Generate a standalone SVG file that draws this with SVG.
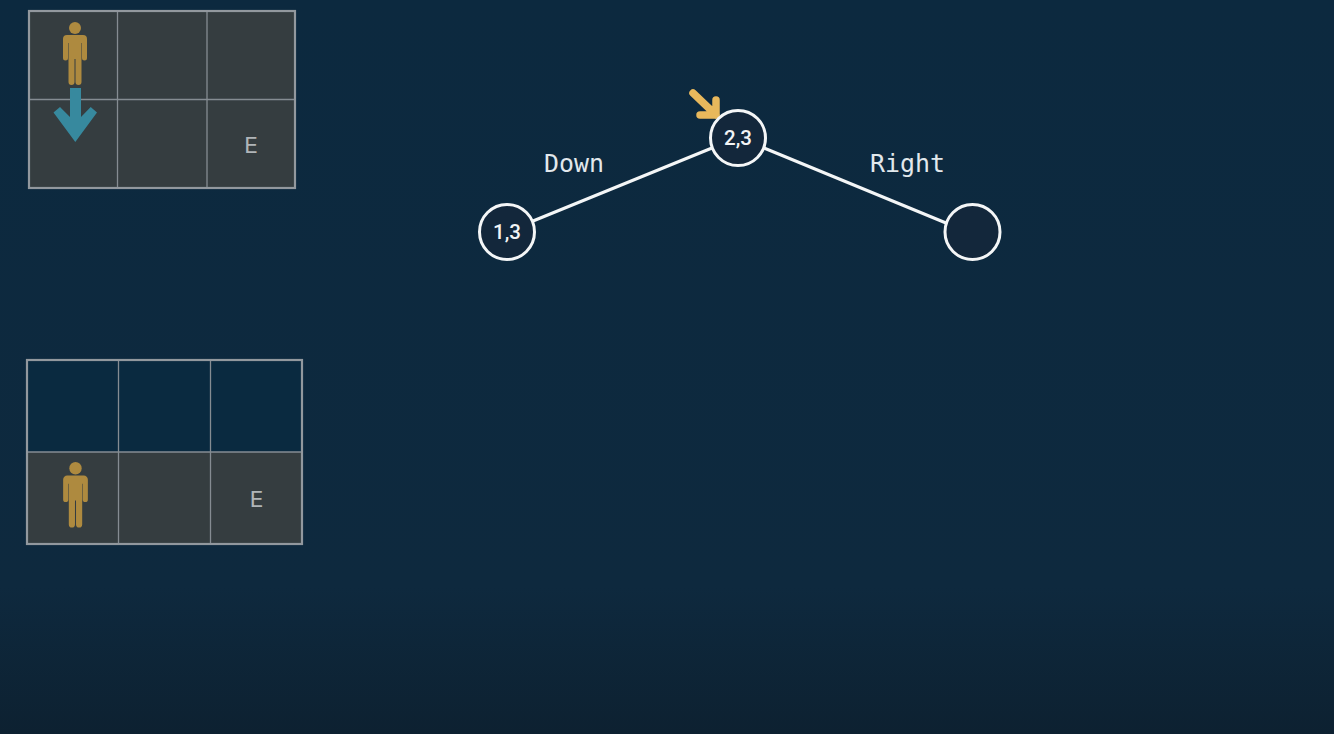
<svg xmlns="http://www.w3.org/2000/svg" width="1334" height="734" viewBox="0 0 1334 734">
<defs>
<linearGradient id="bg" x1="0" y1="0" x2="0" y2="1">
<stop offset="0" stop-color="#0c293f"/><stop offset="0.8" stop-color="#0e293e"/><stop offset="1" stop-color="#0d2131"/>
</linearGradient>
<g id="person" fill="#ae8a3f">
<circle cx="0" cy="6" r="6"/>
<path d="M-8 13H8a4 4 0 0 1 4 4V36a2.500 2.500 0 0 1-5 0V21H6.500V60a3 3 0 0 1-6 0V37H-0.500V60a3 3 0 0 1-6 0V21H-7V36a2.500 2.500 0 0 1-5 0V17a4 4 0 0 1 4-4Z"/>
</g>
</defs>
<style>
.cell{fill:#353d40}
.grid{fill:none;stroke:#858c92;stroke-width:1.300}
.frame{fill:none;stroke:#92989e;stroke-width:2.200}
.e{font:22px "DejaVu Sans",sans-serif;fill:#b0b5b8;text-anchor:middle}
.lab{font:24.900px "DejaVu Sans Mono",monospace;fill:#e2e8ec;text-anchor:middle}
.num{font:500 20.500px "Roboto",sans-serif;fill:#f2f4f5;text-anchor:middle}
.node{fill:#13273b;stroke:#f4f6f7;stroke-width:3}
.edge{fill:none;stroke:#f4f6f7;stroke-width:3}
</style>
<rect width="1334" height="734" fill="url(#bg)"/>
<g id="grid-top">
<rect class="cell" x="29" y="11" width="266" height="177"/>
<path class="grid" d="M117.500 11V188M207 11V188M29 99.500H295"/>
<rect class="frame" x="29" y="11" width="266" height="177"/>
<text class="e" x="251" y="153">E</text>
<use href="#person" x="75" y="22"/>
<path d="M70 88H81V117L90.700 107L97 112.500L75.300 142L53.500 112.500L60 107L70 117Z" fill="#37899e"/>
</g>
<g id="grid-bottom">
<rect x="27" y="360" width="275" height="92" fill="#0a2a40"/>
<rect class="cell" x="27" y="452" width="275" height="92"/>
<path class="grid" d="M118.500 360V544M210.500 360V544M27 452H302"/>
<rect class="frame" x="27" y="360" width="275" height="184"/>
<text class="e" x="256.500" y="507">E</text>
<use href="#person" transform="translate(75.500 462) scale(1.030 1.040)"/>
</g>
<g id="connectors">
<path class="edge" d="M533 221L712 148M764 148L946 223"/>
</g>
<g id="pointer" fill="none" stroke="#e8b85c" stroke-width="7.500" stroke-linecap="round" stroke-linejoin="round">
<path d="M693 93L716 115M716 100V115H700"/>
</g>
<g id="node-1-3"><circle class="node" cx="507" cy="232" r="27.500"/><text class="num" x="507" y="239">1,3</text></g>
<g id="node-2-3"><circle class="node" cx="738" cy="138" r="27.500"/><text class="num" x="738" y="145">2,3</text></g>
<g id="node-empty"><circle class="node" cx="972.500" cy="232" r="27.500"/></g>
<g id="labels">
<text class="lab" x="574" y="172">Down</text>
<text class="lab" x="907.500" y="172">Right</text>
</g>
</svg>
